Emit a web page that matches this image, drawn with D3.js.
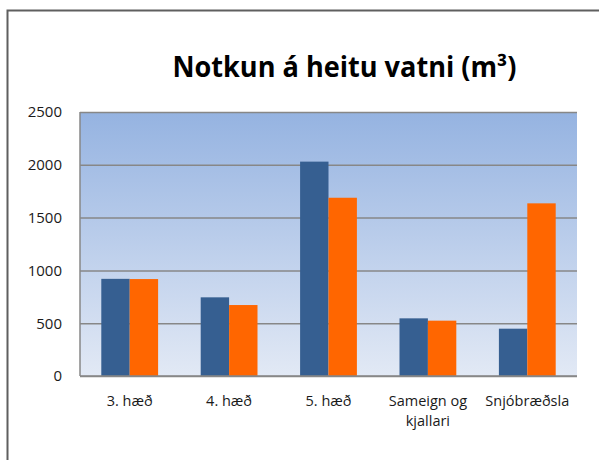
<!DOCTYPE html>
<html lang="is">
<head>
    <meta charset="UTF-8">
    <title>Notkun á heitu vatni</title>
    <script src="https://cdnjs.cloudflare.com/ajax/libs/d3/7.8.5/d3.min.js"></script>
    <style>
        body { margin: 0; background: #fff; font-family: "Open Sans", Arial, sans-serif; }
        svg { display: block; }
    </style>
</head>
<body>
<div id="chart"></div>
<script>
    const categories = ["3. hæð", "4. hæð", "5. hæð", "Sameign og kjallari", "Snjóbræðsla"];
    const seriesNames = ["Röð 1", "Röð 2"];
    const series1 = [920, 745, 2030, 546, 448];
    const series2 = [918, 672, 1688, 524, 1635];
    const yTicks = [0, 500, 1000, 1500, 2000, 2500];
    const title = "Notkun á heitu vatni (m³)";

    const width = 599, height = 460;
    const plot = { left: 80, right: 577, top: 112, bottom: 376 };
    const colors = ["#365f91", "#ff6600"];

    const svg = d3.select("#chart").append("svg")
        .attr("width", width)
        .attr("height", height);

    // frame of the chart (runs off the right and bottom edge)
    svg.append("rect")
        .attr("x", 7.5).attr("y", 10.5)
        .attr("width", 640).attr("height", 500)
        .attr("fill", "#fff")
        .attr("stroke", "#5f5f5f")
        .attr("stroke-width", 2);

    const defs = svg.append("defs");
    const grad = defs.append("linearGradient")
        .attr("id", "plotbg").attr("x1", 0).attr("y1", 0).attr("x2", 0).attr("y2", 1);
    grad.append("stop").attr("offset", "0%").attr("stop-color", "#95b3e1");
    grad.append("stop").attr("offset", "100%").attr("stop-color", "#e2e9f5");

    const y = d3.scaleLinear().domain([0, 2500]).range([plot.bottom, plot.top]);
    const x0 = d3.scaleBand()
        .domain(categories)
        .range([plot.left, plot.right])
        .paddingInner(1.5 / 3.5)
        .paddingOuter(0.75 / 3.5);
    const x1 = d3.scaleBand()
        .domain(seriesNames)
        .range([0, x0.bandwidth()]);

    svg.append("rect")
        .attr("x", plot.left).attr("y", plot.top)
        .attr("width", plot.right - plot.left)
        .attr("height", plot.bottom - plot.top)
        .attr("fill", "url(#plotbg)");

    // gridlines + y labels
    const yAxis = d3.axisLeft(y)
        .tickValues(yTicks)
        .tickFormat(d3.format("d"))
        .tickSize(-(plot.right - plot.left))
        .tickPadding(18);
    const gy = svg.append("g")
        .attr("transform", `translate(${plot.left},0)`)
        .call(yAxis);
    gy.select(".domain").remove();
    gy.selectAll(".tick line").attr("stroke", "#878787").attr("stroke-width", 1.5);
    gy.selectAll(".tick text")
        .attr("font-family", "Open Sans, sans-serif")
        .attr("font-size", 15)
        .attr("fill", "#1a1a1a");

    svg.append("line")
        .attr("x1", plot.left).attr("x2", plot.left)
        .attr("y1", plot.top).attr("y2", plot.bottom)
        .attr("stroke", "#878787").attr("stroke-width", 1.5);

    // bars
    const rows = categories.map((c, i) => ({ cat: c, vals: [series1[i], series2[i]] }));
    const groups = svg.append("g").selectAll("g")
        .data(rows)
        .join("g")
        .attr("transform", d => `translate(${x0(d.cat)},0)`);

    groups.selectAll("rect")
        .data(d => d.vals.map((v, j) => ({ name: seriesNames[j], v, j })))
        .join("rect")
        .attr("x", d => x1(d.name))
        .attr("y", d => y(d.v))
        .attr("width", x1.bandwidth())
        .attr("height", d => y(0) - y(d.v))
        .attr("fill", d => colors[d.j]);

    // x axis line
    svg.append("line")
        .attr("x1", plot.left).attr("x2", plot.right)
        .attr("y1", plot.bottom).attr("y2", plot.bottom)
        .attr("stroke", "#878787").attr("stroke-width", 1.5);

    // category labels, wrapped like Excel does (one <text> per line)
    const xLabels = svg.append("g")
        .attr("font-family", "Open Sans, sans-serif")
        .attr("font-size", 14.5)
        .attr("fill", "#1a1a1a")
        .attr("text-anchor", "middle");

    categories.forEach(c => {
        const cx = x0(c) + x0.bandwidth() / 2;
        const words = c.split(" ");
        let lines = [[]];
        const probe = xLabels.append("text");
        words.forEach(w => {
            const cur = lines[lines.length - 1];
            probe.text(cur.concat(w).join(" "));
            if (cur.length && probe.node().getComputedTextLength() > x0.step() - 8) {
                lines.push([w]);
            } else {
                cur.push(w);
            }
        });
        probe.remove();
        lines.forEach((l, k) => {
            xLabels.append("text")
                .attr("x", cx)
                .attr("y", 406 + k * 20)
                .text(l.join(" "));
        });
    });

    // title
    const tt = svg.append("text")
        .attr("x", 344.5)
        .attr("y", 77)
        .attr("text-anchor", "middle")
        .attr("font-family", "Open Sans, sans-serif")
        .attr("font-weight", 700)
        .attr("font-size", 28)
        .attr("fill", "#000")
        .text(title);
    const natural = tt.node().getComputedTextLength();
    if (Math.abs(natural - 344) > 4) {
        tt.attr("textLength", 344).attr("lengthAdjust", "spacingAndGlyphs");
    }
</script>
</body>
</html>
